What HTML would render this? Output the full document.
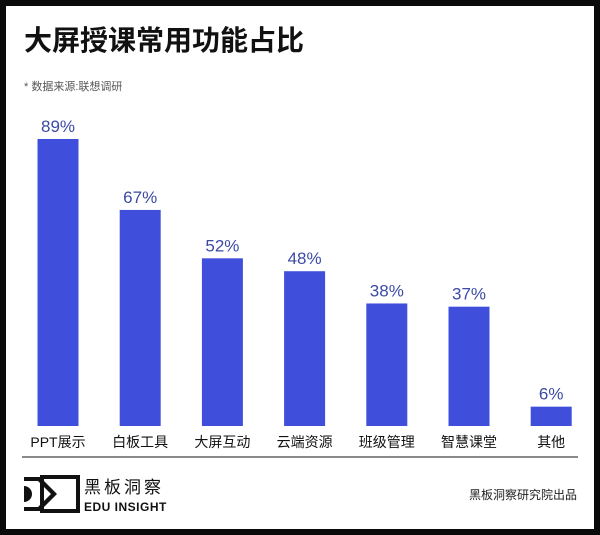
<!DOCTYPE html>
<html><head><meta charset="utf-8"><style>
html,body{margin:0;padding:0;background:#0a0a0a;}
#frame{position:absolute;left:6px;top:6px;width:588px;height:523px;background:#fff;}
body{width:600px;height:535px;position:relative;overflow:hidden;font-family:"Liberation Sans","Noto Sans CJK SC",sans-serif;}
</style></head><body>
<div id="frame"></div>
<svg id="chart" width="600" height="535" style="position:absolute;left:0;top:0">
<text x="24" y="50" font-size="28" font-weight="bold" fill="#111" font-family="Liberation Sans,Noto Sans CJK SC,sans-serif">大屏授课常用功能占比</text>
<text x="24" y="90" font-size="11" fill="#555" font-family="Liberation Sans,Noto Sans CJK SC,sans-serif">* 数据来源:联想调研</text>
<g id="bars"></g>
<line x1="22" y1="457" x2="578" y2="457" stroke="#444" stroke-width="1.2"/>
<g>
<polygon points="24,477 40,477 57,494 40,511 24,511 24,507 38,507 51,494 38,481 24,481" fill="#111"/>
<path d="M24,486 a8,8 0 0 1 0,16 z" fill="#111"/>
<rect x="42" y="477" width="36" height="34" fill="none" stroke="#111" stroke-width="4"/>
<text x="84" y="493" font-size="17" fill="#111" letter-spacing="3" font-family="Liberation Sans,Noto Sans CJK SC,sans-serif">黑板洞察</text>
<text x="84" y="511" font-size="12" fill="#111" font-weight="bold" letter-spacing="0.5" font-family="Liberation Sans,sans-serif">EDU INSIGHT</text>
</g>
<text x="577" y="499" font-size="12" fill="#222" text-anchor="end" font-family="Liberation Sans,Noto Sans CJK SC,sans-serif">黑板洞察研究院出品</text>
</svg>
<script>
const categories=["PPT展示","白板工具","大屏互动","云端资源","班级管理","智慧课堂","其他"];
const values=[89,67,52,48,38,37,6];
const ns="http://www.w3.org/2000/svg";
const g=document.getElementById("bars");
const baseY=426, scale=287/89, x0=58, step=82.2, bw=41;
function xPos(i){return x0+i*step;}
function yPos(v){return baseY-v*scale;}
categories.forEach((c,i)=>{
 const cx=xPos(i), y=yPos(values[i]);
 const r=document.createElementNS(ns,"rect");
 r.setAttribute("x",cx-bw/2);r.setAttribute("y",y);r.setAttribute("width",bw);r.setAttribute("height",baseY-y);r.setAttribute("fill","#3f4fdb");
 
 
 g.appendChild(r);
 const t=document.createElementNS(ns,"text");
 t.setAttribute("x",cx);t.setAttribute("y",y-7);t.setAttribute("text-anchor","middle");t.setAttribute("font-size","17");t.setAttribute("fill","#3b4aa5");
 t.textContent=values[i]+"%";
 
 
 g.appendChild(t);
 const l=document.createElementNS(ns,"text");
 l.setAttribute("x",cx);l.setAttribute("y",447);l.setAttribute("text-anchor","middle");l.setAttribute("font-size","14");l.setAttribute("fill","#111");
 l.setAttribute("font-family","Liberation Sans,Noto Sans CJK SC,sans-serif");
 l.textContent=c;
 
 
 g.appendChild(l);
});
</script>
</body></html>
